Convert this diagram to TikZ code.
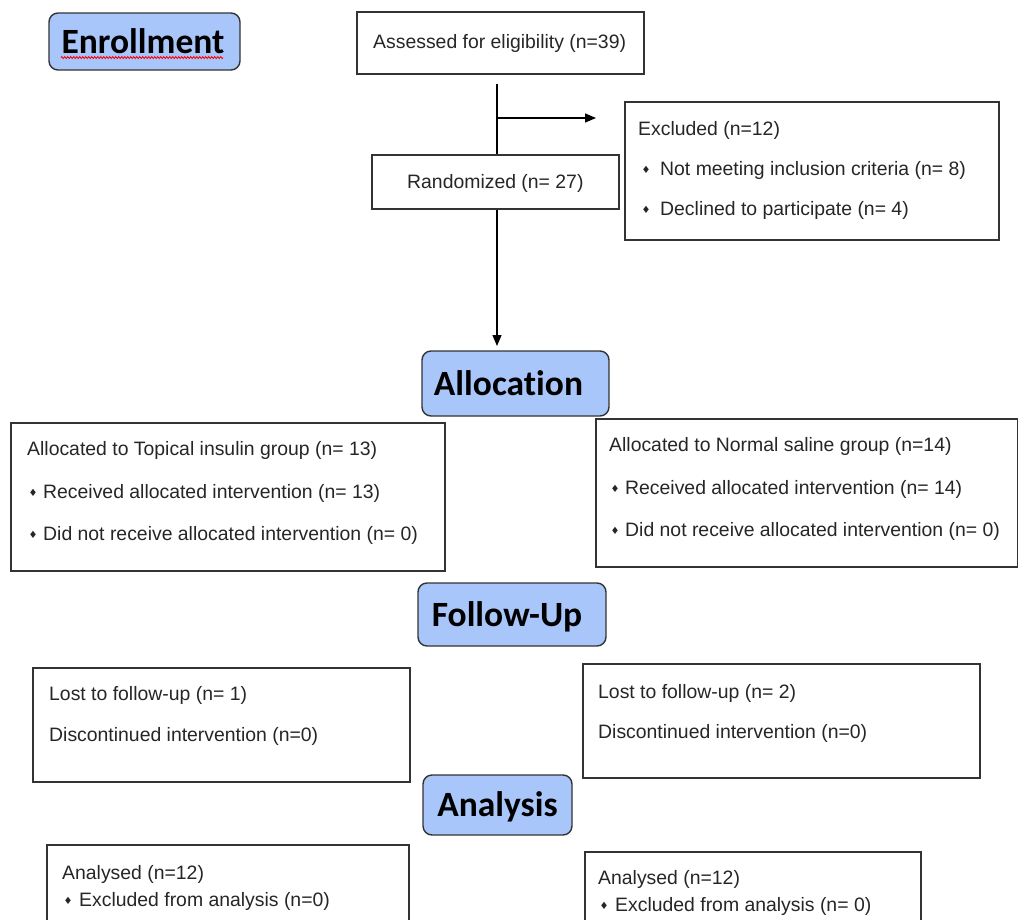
\documentclass[tikz,border=0pt]{standalone}
\usepackage{fontspec}
\setmainfont{Liberation Sans}
\newfontfamily\hdrfont[RawFeature=-liga]{Carlito}
\newfontfamily\symfont{DejaVu Sans}
\usetikzlibrary{arrows.meta,decorations.pathmorphing}
\definecolor{hdrfill}{HTML}{A8C6FA}
\definecolor{linegray}{HTML}{333333}
\begin{document}
\begin{tikzpicture}[x=1pt,y=-1pt,
  box/.style={draw=linegray,line width=1.4pt,inner sep=0pt,fill=white},
  hdr/.style={draw=linegray,line width=1.4pt,fill=hdrfill,rounded corners=9pt,inner sep=0pt,
    font=\hdrfont\bfseries\fontsize{35.5}{36}\selectfont,text height=23pt,text depth=0pt},
  txt/.style={anchor=base west,inner sep=0pt,font=\fontsize{19.4}{19.4}\selectfont,text=black!85},
  bul/.style={anchor=base,inner sep=0pt,font=\symfont\fontsize{10}{10}\selectfont,text=black!85},
  conn/.style={draw=black,line width=1.3pt},
  arr/.style={conn,-{Triangle[length=11pt,width=9pt]}}]
\useasboundingbox (0,0) rectangle (1018,919);
\clip (0,0) rectangle (1018,919);
\fill[white] (0,0) rectangle (1018,919);

% header boxes
\node[hdr,minimum width=191pt,minimum height=57pt] (enroll) at (144.5,41.5) {\hspace*{-3pt}Enrollment};
\draw[red,line width=0.8pt,decorate,decoration={zigzag,segment length=3pt,amplitude=1pt}] (61,57.5) -- (223,57.5);
\node[hdr,minimum width=187pt,minimum height=65pt] (alloc) at (515.5,383.5) {\hspace*{-14pt}Allocation};
\node[hdr,minimum width=188pt,minimum height=63pt] (follow) at (512,614.5) {\hspace*{-10pt}Follow-Up};
\node[hdr,minimum width=149pt,minimum height=60pt] (analysis) at (497.5,805) {Analysis};

% boxes
\node[box,minimum width=287pt,minimum height=62pt] (assess) at (500.5,43) {};
\node[box,minimum width=247pt,minimum height=54pt] (rand) at (495.5,182) {};
\node[box,minimum width=374pt,minimum height=138pt] (excl) at (812,171) {};
\node[box,minimum width=434pt,minimum height=148pt] (allocL) at (228,497) {};
\node[box,minimum width=421.5pt,minimum height=148pt] (allocR) at (806.75,493) {};
\node[box,minimum width=377pt,minimum height=114pt] (followL) at (221.5,725) {};
\node[box,minimum width=397pt,minimum height=114pt] (followR) at (781.5,721) {};
\node[box,minimum width=362pt,minimum height=140pt] (anaL) at (228,915) {};
\node[box,minimum width=336pt,minimum height=140pt] (anaR) at (753,922) {};

% connectors
\coordinate (stem) at (497,84);
\coordinate (branch) at (497,118);
\coordinate (exclIn) at (596,118);
\coordinate (allocIn) at (497,346);
\draw[conn] (stem) -- (stem |- rand.north);
\draw[arr] (branch) -- (exclIn);
\draw[arr] (rand.south -| stem) -- (allocIn);

% texts
\node[txt] (tAssess) at (373,48) {Assessed for eligibility (n=39)};
\node[txt] (tRand) at (407,188) {Randomized (n= 27)};

\node[txt] (tExcl) at (638,135) {Excluded (n=12)};
\node[bul] (b1) at (646,173) {♦};
\node[txt] (tExcl1) at (660,175) {Not meeting inclusion criteria (n= 8)};
\node[bul] (b2) at (646,213) {♦};
\node[txt] (tExcl2) at (660,215) {Declined to participate (n= 4)};

\node[txt] (tAL) at (27,455) {Allocated to Topical insulin group (n= 13)};
\node[bul] (b3) at (33,496) {♦};
\node[txt] (tAL1) at (43,498) {Received allocated intervention (n= 13)};
\node[bul] (b4) at (33,538) {♦};
\node[txt] (tAL2) at (43,540) {Did not receive allocated intervention (n= 0)};

\node[txt] (tAR) at (609,451) {Allocated to Normal saline group (n=14)};
\node[bul] (b5) at (615,492) {♦};
\node[txt] (tAR1) at (625,494) {Received allocated intervention (n= 14)};
\node[bul] (b6) at (615,534) {♦};
\node[txt] (tAR2) at (625,536) {Did not receive allocated intervention (n= 0)};

\node[txt] (tFL1) at (49,700) {Lost to follow-up (n= 1)};
\node[txt] (tFL2) at (49,741) {Discontinued intervention (n=0)};
\node[txt] (tFR1) at (598,698) {Lost to follow-up (n= 2)};
\node[txt] (tFR2) at (598,738) {Discontinued intervention (n=0)};

\node[txt] (tNL1) at (62,879) {Analysed (n=12)};
\node[bul] (b7) at (68,904) {♦};
\node[txt] (tNL2) at (79,906) {Excluded from analysis (n=0)};
\node[txt] (tNR1) at (598,884) {Analysed (n=12)};
\node[bul] (b8) at (604,909) {♦};
\node[txt] (tNR2) at (615,911) {Excluded from analysis (n= 0)};
\end{tikzpicture}
\end{document}
